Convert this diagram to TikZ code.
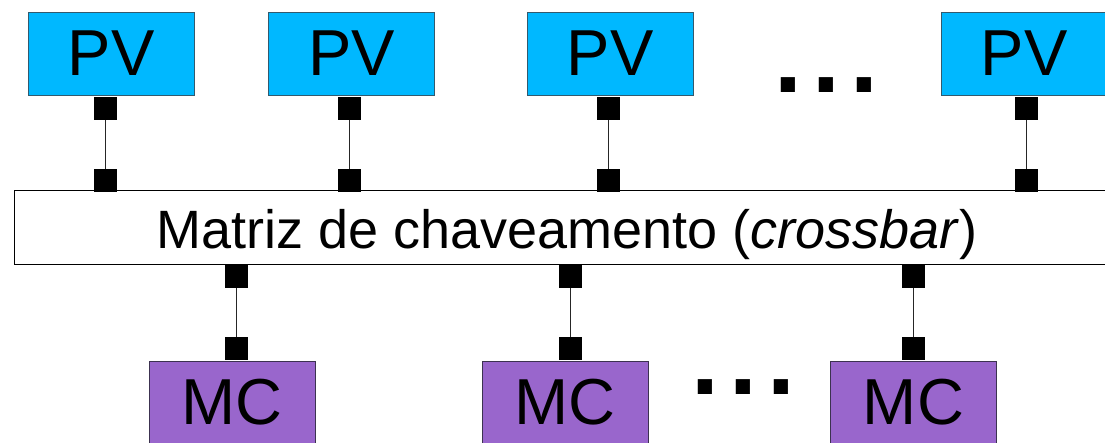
\documentclass[tikz,border=0pt]{standalone}
\usepackage{fontspec}
\setmainfont{Liberation Sans}
\definecolor{pvfill}{RGB}{0,184,255}
\definecolor{pvborder}{RGB}{50,90,110}
\definecolor{mcfill}{RGB}{153,102,204}
\definecolor{mcborder}{RGB}{60,50,80}
\newcommand{\mydots}{.\hspace{10.2pt}.\hspace{10.2pt}.}
\begin{document}
\begin{tikzpicture}[x=1pt,y=-1pt,
  pv/.style={draw=pvborder, fill=pvfill, line width=1pt, minimum width=166pt, minimum height=83pt, inner sep=0pt, font=\fontsize{65}{70}\selectfont},
  mc/.style={draw=mcborder, fill=mcfill, line width=1pt, minimum width=166pt, minimum height=83pt, inner sep=0pt, font=\fontsize{65}{70}\selectfont},
  bar/.style={draw=black, fill=white, line width=1pt, minimum width=1106pt, minimum height=74pt, inner sep=0pt, text height=42pt, text depth=0pt, font=\fontsize{54}{60}\selectfont},
  sq/.style={fill=black, draw=none, minimum size=22.7pt, inner sep=0pt},
  wire/.style={draw=black!85, line width=1pt},
  dots/.style={inner sep=0pt, font=\fontsize{100}{110}\selectfont\bfseries}]
\useasboundingbox (0,0) rectangle (1105,442);
\fill[white] (0,0) rectangle (1105,442);
% crossbar
\node[bar] (cb) at (567,227) {Matriz de chaveamento (\textit{crossbar})};
% PV boxes
\node[pv] (pv1) at (111,53.5) {PV};
\node[pv] (pv2) at (351.5,53.5) {PV};
\node[pv] (pv3) at (610.3,53.5) {PV};
\node[pv] (pv4) at (1024,53.5) {PV};
% MC boxes
\node[mc] (mc1) at (232,402.5) {MC};
\node[mc] (mc2) at (565.3,402.5) {MC};
\node[mc] (mc3) at (913.5,402.5) {MC};
% PV ports
\foreach \n/\x in {1/105.5,2/349.5,3/608.3,4/1026.5}{
  \node[sq] (pa\n) at (\x,108.2) {};
  \node[sq] (pb\n) at (\x,180.5) {};
  \draw[wire] (pa\n.south) -- (pb\n.north);
}
% MC ports
\foreach \n/\x in {1/236.5,2/570.5,3/913.5}{
  \node[sq] (ma\n) at (\x,276.5) {};
  \node[sq] (mb\n) at (\x,348.8) {};
  \draw[wire] (ma\n.south) -- (mb\n.north);
}
% ellipses
\node[dots, anchor=base] (d1) at (826.5,92) {\mydots};
\node[dots, anchor=base] (d2) at (743.5,394.5) {\mydots};
\end{tikzpicture}
\end{document}
